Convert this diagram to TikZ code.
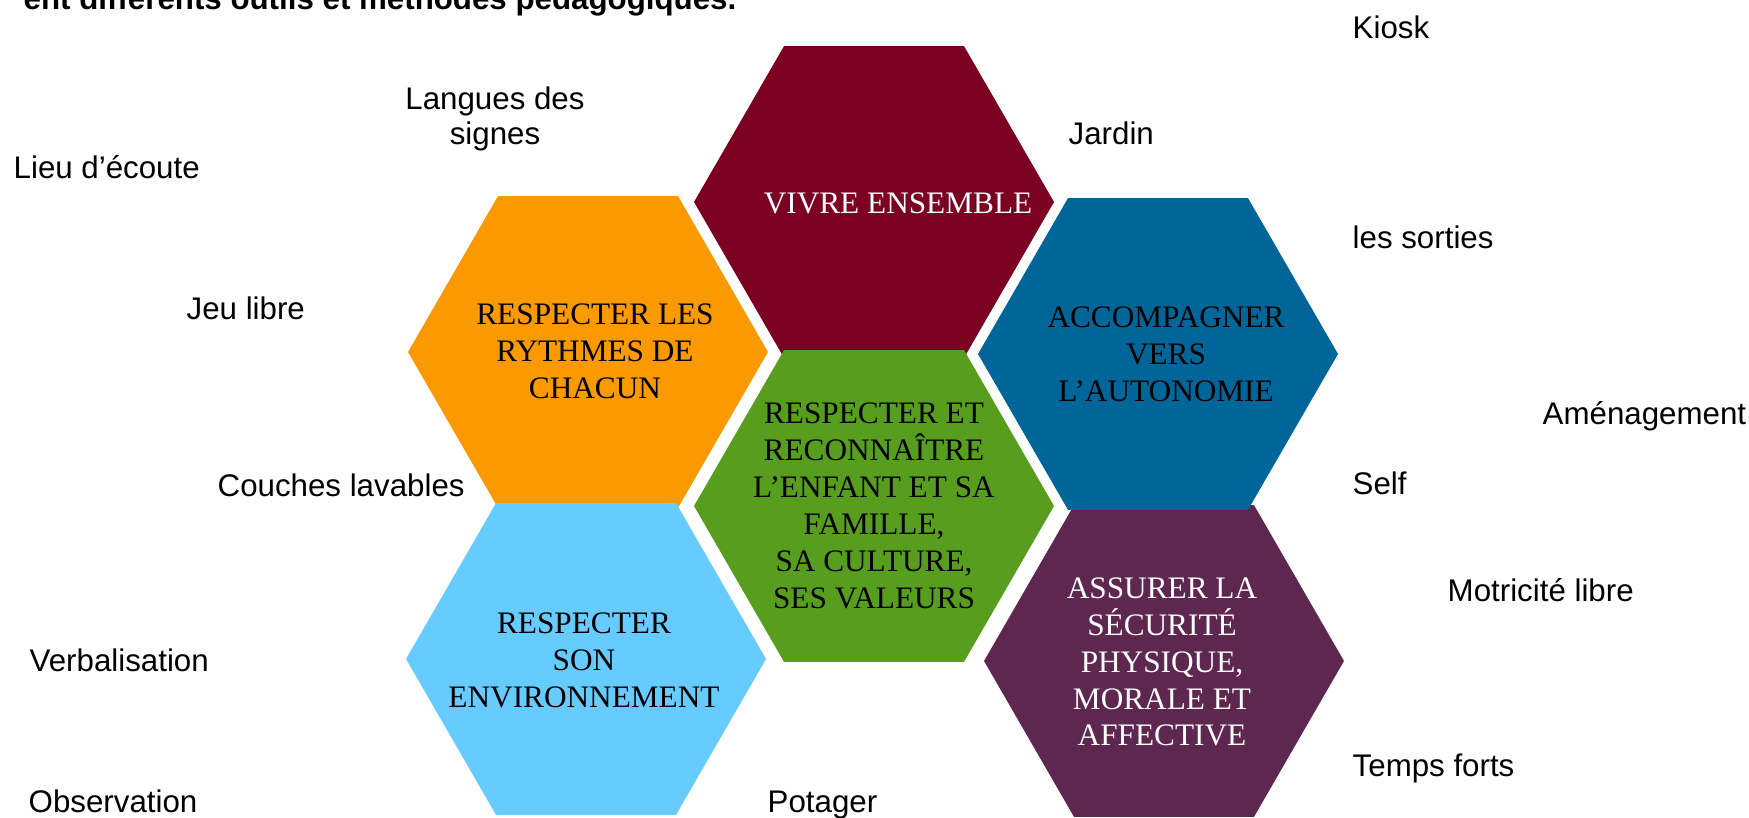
\documentclass[tikz,border=0pt]{standalone}
\usepackage{fontspec}
\setmainfont{Liberation Serif}
\setsansfont{Liberation Sans}
\usetikzlibrary{shapes.geometric}
\definecolor{bordeaux}{HTML}{7B0022}
\definecolor{orangevif}{HTML}{FA9A00}
\definecolor{vertfeuille}{HTML}{589E1E}
\definecolor{bleufonce}{HTML}{006699}
\definecolor{bleuciel}{HTML}{66CCFF}
\definecolor{prune}{HTML}{5E2750}

\begin{document}
\begin{tikzpicture}[
  hexa/.style={regular polygon, regular polygon sides=6, minimum size=3.6cm, inner sep=0pt, outer sep=0pt},
  valeur/.style={align=center, inner sep=0pt, font=\fontsize{8.9}{10.5}\selectfont},
  outil/.style={anchor=base west, inner sep=0pt, font=\sffamily\fontsize{8.9}{10}\selectfont}]
  \useasboundingbox (0,0) rectangle (17.49,8.18);

  % titre coupe en haut
  \node[anchor=base east, inner sep=0pt, font=\sffamily\bfseries\fontsize{8.9}{10}\selectfont] (titre) at (7.37,8.08) {ent différents outils et méthodes pédagogiques.};

  % les six hexagones
  \node[hexa, fill=bordeaux] (vivre) at (8.74,6.16) {};
  \node[hexa, fill=vertfeuille] (centre) at (8.74,3.12) {};
  \node[hexa, fill=orangevif] (rythmes) at (5.88,4.66) {};
  \node[hexa, fill=bleuciel] (environ) at (5.86,1.59) {};
  \node[hexa, fill=prune] (securite) at (11.64,1.57) {};
  \node[hexa, fill=bleufonce] (autonomie) at (11.58,4.64) {};

  \node[valeur, text=white] (vivretxt) at (8.98,6.15) {VIVRE ENSEMBLE};
  \node[valeur] (centretxt) at (centre) {RESPECTER ET\\RECONNAÎTRE\\L’ENFANT ET SA\\FAMILLE,\\SA CULTURE,\\SES VALEURS};
  \node[valeur] (rythmestxt) at (5.95,4.665) {RESPECTER LES\\RYTHMES DE\\CHACUN};
  \node[valeur] (environtxt) at (5.84,1.575) {RESPECTER\\SON\\ENVIRONNEMENT};
  \node[valeur] (autonomietxt) at (11.66,4.635) {ACCOMPAGNER\\VERS\\L’AUTONOMIE};
  \node[valeur, text=white] (securitetxt) at (11.62,1.56) {ASSURER LA\\SÉCURITÉ\\PHYSIQUE,\\MORALE ET\\AFFECTIVE};

  % les outils autour
  \node[outil, anchor=center, align=center] (langues) at (4.95,6.99) {Langues des\\signes};
  \node[outil] (lieu) at (0.13,6.39) {Lieu d’écoute};
  \node[outil] (jeu) at (1.86,4.98) {Jeu libre};
  \node[outil] (couches) at (2.17,3.21) {Couches lavables};
  \node[outil] (verbal) at (0.29,1.46) {Verbalisation};
  \node[outil] (observ) at (0.28,0.05) {Observation};
  \node[outil] (potager) at (7.67,0.05) {Potager};
  \node[outil] (jardin) at (10.68,6.73) {Jardin};
  \node[outil] (kiosk) at (13.52,7.79) {Kiosk};
  \node[outil] (sorties) at (13.52,5.69) {les sorties};
  \node[outil] (amenag) at (15.42,3.93) {Aménagement};
  \node[outil] (self) at (13.52,3.23) {Self};
  \node[outil] (motric) at (14.47,2.16) {Motricité libre};
  \node[outil] (temps) at (13.52,0.41) {Temps forts};
\end{tikzpicture}
\end{document}
